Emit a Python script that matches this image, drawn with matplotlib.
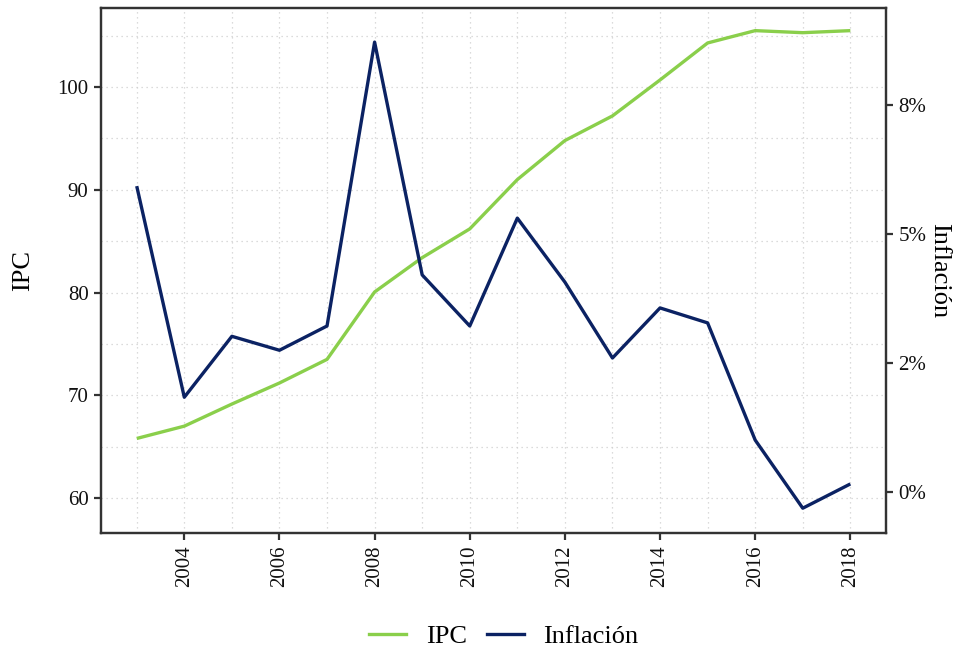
import matplotlib
matplotlib.use("Agg")
import matplotlib.pyplot as plt
from matplotlib.ticker import MultipleLocator
from matplotlib.lines import Line2D
from matplotlib import font_manager

names = {f.name for f in font_manager.fontManager.ttflist}
serif = [n for n in ['Liberation Serif', 'Times New Roman', 'Nimbus Roman', 'STIXGeneral'] if n in names]
plt.rcParams['font.family'] = serif + ['DejaVu Serif']

years = [2003, 2004, 2005, 2006, 2007, 2008, 2009, 2010, 2011, 2012,
         2013, 2014, 2015, 2016, 2017, 2018]
ipc = [65.8, 67.0, 69.15, 71.2, 73.5, 80.06, 83.4, 86.2, 91.0, 94.8,
       97.2, 100.7, 104.3, 105.5, 105.3, 105.5]
inflacion = [5.93, 1.84, 3.02, 2.75, 3.22, 8.72, 4.21, 3.22, 5.31, 4.07,
             2.60, 3.57, 3.28, 1.01, -0.31, 0.16]

x_ticks = [2004, 2006, 2008, 2010, 2012, 2014, 2016, 2018]
left_ticks = [60, 70, 80, 90, 100]
right_ticks = [0, 2.5, 5, 7.5]
right_labels = ["0%", "2%", "5%", "8%"]

green = "#8ACF4B"
navy = "#0B2263"
spine_c = "#333333"

fig = plt.figure(figsize=(9.56, 6.53), dpi=100)
ax = fig.add_axes([0.1057, 0.1838, 0.8211, 0.8039])
ax2 = ax.twinx()

ax.plot(years, ipc, color=green, lw=2.4, solid_capstyle='butt')
ax2.plot(years, inflacion, color=navy, lw=2.4, solid_capstyle='butt')

ax.set_xlim(2002.25, 2018.75)
ax.set_ylim(56.6, 107.7)
ax2.set_ylim(-0.79, 9.38)

ax.set_xticks(x_ticks)
ax.set_xticklabels([str(t) for t in x_ticks], rotation=90)
ax.xaxis.set_minor_locator(MultipleLocator(1))
ax.set_yticks(left_ticks)
ax.yaxis.set_minor_locator(MultipleLocator(5))
ax2.set_yticks(right_ticks)
ax2.set_yticklabels(right_labels)

ax.grid(True, which='both', color='#d0d0d0', linestyle=(0, (1, 3)), lw=0.9)
ax.set_axisbelow(True)

for a in (ax, ax2):
    for s in a.spines.values():
        s.set_color(spine_c)
        s.set_linewidth(1.6)
    a.tick_params(which='major', direction='out', length=5, width=1.6,
                  color=spine_c, labelsize=15, labelcolor='#111111', pad=4)
    a.tick_params(which='minor', length=0)

ax.set_ylabel("IPC", fontsize=19, labelpad=17)
ax2.set_ylabel("Inflación", fontsize=19, rotation=-90, labelpad=17)

handles = [Line2D([], [], color=green, lw=2.4), Line2D([], [], color=navy, lw=2.4)]
fig.legend(handles, ["IPC", "Inflación"], loc='center', bbox_to_anchor=(0.527, 0.026),
           ncol=2, frameon=False, fontsize=19, handlelength=1.4, columnspacing=0.75,
           handletextpad=0.75)

fig.savefig("out.png", dpi=100)
